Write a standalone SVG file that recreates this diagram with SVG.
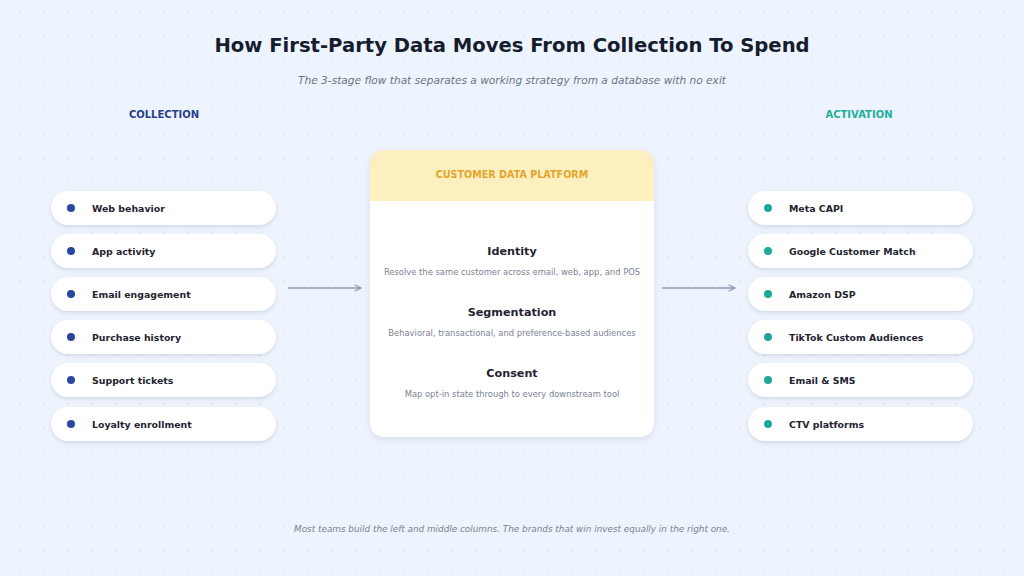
<svg xmlns="http://www.w3.org/2000/svg" width="1024" height="576" viewBox="0 0 1024 576">
<defs>
<pattern id="dots" x="8" y="0" width="24" height="24.5" patternUnits="userSpaceOnUse">
<circle cx="12" cy="12" r="1" fill="#dde5f0"/>
</pattern>
<filter id="sh" x="-10%" y="-30%" width="120%" height="170%">
<feDropShadow dx="0" dy="2" stdDeviation="2" flood-color="#9aa8c0" flood-opacity="0.35"/>
</filter>
<filter id="shc" x="-10%" y="-10%" width="120%" height="120%">
<feDropShadow dx="0" dy="2" stdDeviation="3" flood-color="#9aa8c0" flood-opacity="0.3"/>
</filter>
<marker id="arr" viewBox="0 0 10 10" refX="9" refY="5" markerWidth="8" markerHeight="8" markerUnits="userSpaceOnUse" orient="auto">
<path d="M1,1 L9,5 L1,9" fill="none" stroke="#8e9ab0" stroke-width="1.4"/>
</marker>
<clipPath id="cardclip"><rect x="370" y="150" width="284" height="287" rx="14"/></clipPath>
</defs>
<style>
text{font-family:"DejaVu Sans","Noto Sans",sans-serif}
.title{font-size:19.6px;font-weight:bold;fill:#151d2e}
.sub{font-size:10.6px;font-style:italic;fill:#6b7485}
.colhead{font-size:10px;font-weight:bold}
.pill{fill:#ffffff;filter:url(#sh)}
.lbl{font-size:9.4px;font-weight:bold;fill:#1f2430}
.h{font-size:11.2px;font-weight:bold;fill:#1f2430}
.d{font-size:8.4px;fill:#7a8292}
.foot{font-size:8.85px;font-style:italic;fill:#7a8292}
.conn{stroke:#8e9ab0;stroke-width:1.4;fill:none;marker-end:url(#arr)}
</style>
<rect width="1024" height="576" fill="#eef4fd"/>
<rect width="1024" height="576" fill="url(#dots)"/>

<text class="title" x="512" y="52" text-anchor="middle">How First-Party Data Moves From Collection To Spend</text>
<text class="sub" x="512" y="84" text-anchor="middle">The 3-stage flow that separates a working strategy from a database with no exit</text>

<text class="colhead" x="164" y="118" text-anchor="middle" fill="#2a3f8c">COLLECTION</text>
<text class="colhead" x="859" y="118" text-anchor="middle" fill="#1fae9a">ACTIVATION</text>

<g id="collection">
<g id="c1"><rect class="pill" x="51" y="191" width="225" height="34" rx="17"/><circle cx="71" cy="208" r="4" fill="#2a46a0"/><text class="lbl" x="92" y="212">Web behavior</text></g>
<g id="c2"><rect class="pill" x="51" y="234" width="225" height="34" rx="17"/><circle cx="71" cy="251" r="4" fill="#2a46a0"/><text class="lbl" x="92" y="255">App activity</text></g>
<g id="c3"><rect class="pill" x="51" y="277" width="225" height="34" rx="17"/><circle cx="71" cy="294" r="4" fill="#2a46a0"/><text class="lbl" x="92" y="298">Email engagement</text></g>
<g id="c4"><rect class="pill" x="51" y="320" width="225" height="34" rx="17"/><circle cx="71" cy="337" r="4" fill="#2a46a0"/><text class="lbl" x="92" y="341">Purchase history</text></g>
<g id="c5"><rect class="pill" x="51" y="363" width="225" height="34" rx="17"/><circle cx="71" cy="380" r="4" fill="#2a46a0"/><text class="lbl" x="92" y="384">Support tickets</text></g>
<g id="c6"><rect class="pill" x="51" y="407" width="225" height="34" rx="17"/><circle cx="71" cy="424" r="4" fill="#2a46a0"/><text class="lbl" x="92" y="428">Loyalty enrollment</text></g>
</g>

<g id="cdp">
<rect x="370" y="150" width="284" height="287" rx="14" fill="#ffffff" filter="url(#shc)"/>
<rect x="370" y="150" width="284" height="51" fill="#fdf0c0" clip-path="url(#cardclip)"/>
<text x="512" y="178" text-anchor="middle" style="font-size:9.6px;font-weight:bold;fill:#e2a52c">CUSTOMER DATA PLATFORM</text>
<text class="h" x="512" y="255" text-anchor="middle">Identity</text>
<text class="d" x="512" y="275" text-anchor="middle">Resolve the same customer across email, web, app, and POS</text>
<text class="h" x="512" y="316" text-anchor="middle">Segmentation</text>
<text class="d" x="512" y="336" text-anchor="middle">Behavioral, transactional, and preference-based audiences</text>
<text class="h" x="512" y="377" text-anchor="middle">Consent</text>
<text class="d" x="512" y="397" text-anchor="middle">Map opt-in state through to every downstream tool</text>
</g>

<g id="activation">
<g id="a1"><rect class="pill" x="748" y="191" width="225" height="34" rx="17"/><circle cx="768" cy="208" r="4" fill="#1fa898"/><text class="lbl" x="789" y="212">Meta CAPI</text></g>
<g id="a2"><rect class="pill" x="748" y="234" width="225" height="34" rx="17"/><circle cx="768" cy="251" r="4" fill="#1fa898"/><text class="lbl" x="789" y="255">Google Customer Match</text></g>
<g id="a3"><rect class="pill" x="748" y="277" width="225" height="34" rx="17"/><circle cx="768" cy="294" r="4" fill="#1fa898"/><text class="lbl" x="789" y="298">Amazon DSP</text></g>
<g id="a4"><rect class="pill" x="748" y="320" width="225" height="34" rx="17"/><circle cx="768" cy="337" r="4" fill="#1fa898"/><text class="lbl" x="789" y="341">TikTok Custom Audiences</text></g>
<g id="a5"><rect class="pill" x="748" y="363" width="225" height="34" rx="17"/><circle cx="768" cy="380" r="4" fill="#1fa898"/><text class="lbl" x="789" y="384">Email &amp; SMS</text></g>
<g id="a6"><rect class="pill" x="748" y="407" width="225" height="34" rx="17"/><circle cx="768" cy="424" r="4" fill="#1fa898"/><text class="lbl" x="789" y="428">CTV platforms</text></g>
</g>

<g id="connectors">
<line class="conn" x1="288" y1="288" x2="361" y2="288"/>
<line class="conn" x1="662" y1="288" x2="735" y2="288"/>
</g>

<text class="foot" x="512" y="532" text-anchor="middle">Most teams build the left and middle columns. The brands that win invest equally in the right one.</text>
</svg>
